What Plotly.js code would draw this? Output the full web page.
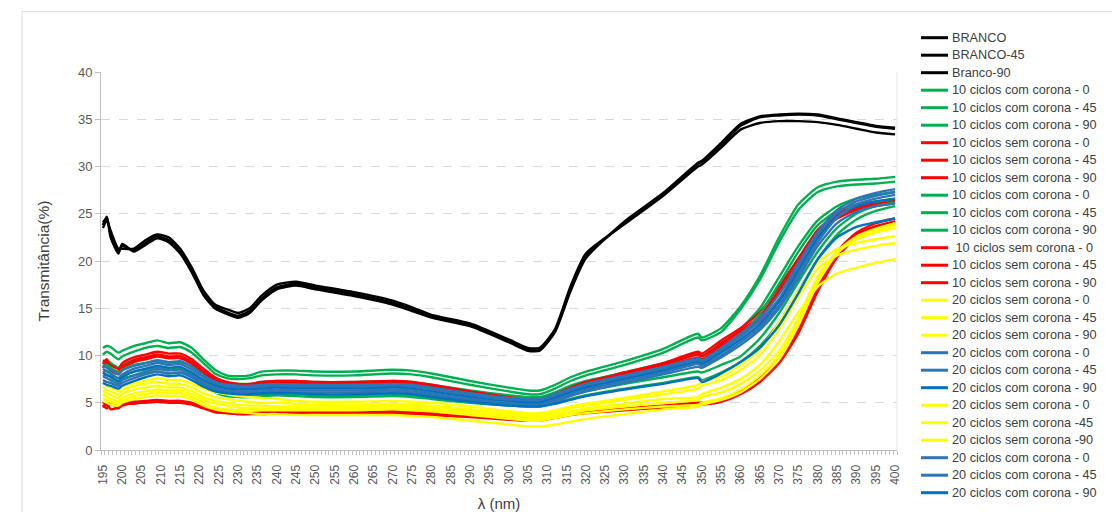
<!DOCTYPE html>
<html>
<head>
<meta charset="utf-8">
<script src="https://cdn.plot.ly/plotly-3.0.1.min.js"></script>
<style>html,body{margin:0;padding:0;background:#fff;}#chart{width:1112px;height:512px;}</style>
</head>
<body>
<div id="chart"></div>
<script>
// Wavelength samples (nm)
const wl = [195,196,197,199,200, 203,206,209,212,215, 218,221,224,227,230, 233,236,240,245,250, 260,270,275,280,290, 300,305,308,312,316, 320,330,340,349,350, 355,360,365,370,375, 380,385,390,395,400];

// Legend labels
const labels = ["BRANCO","BRANCO-45","Branco-90",
 "10 ciclos com corona - 0","10 ciclos com corona - 45","10 ciclos com corona - 90",
 "10 ciclos sem corona - 0","10 ciclos sem corona - 45","10 ciclos sem corona - 90",
 "10 ciclos com corona - 0","10 ciclos com corona - 45","10 ciclos com corona - 90",
 "\u00a010 ciclos sem corona - 0","10 ciclos sem corona - 45","10 ciclos sem corona - 90",
 "20 ciclos sem corona - 0","20 ciclos sem corona - 45","20 ciclos sem corona - 90",
 "20 ciclos com corona - 0","20 ciclos com corona - 45","20 ciclos com corona - 90",
 "20 ciclos sem corona - 0","20 ciclos sem corona -45","20 ciclos sem corona -90",
 "20 ciclos com corona - 0","20 ciclos com corona - 45","20 ciclos com corona - 90"];

// Transmittance (%) series
const branco0  = [23.8,24.7,22.8,21.0,21.6, 21.1,21.9,22.6,22.2,21.0, 19.0,16.6,15.2,14.6,14.2, 14.7,16.0,17.2,17.6,17.2, 16.5,15.6,14.9,14.1,13.2, 11.5,10.6,10.6,12.6,17.0, 20.5,24.0,27.0,30.3,30.5, 32.3,34.3,35.2,35.4,35.5, 35.4,35.0,34.6,34.2,34.0];
const branco45 = [23.5,24.3,23.2,21.3,21.3, 21.3,22.2,22.8,22.5,21.3, 19.3,16.9,15.4,14.9,14.5, 15.0,16.3,17.5,17.8,17.4, 16.7,15.8,15.1,14.3,13.4, 11.7,10.8,10.8,12.8,17.3, 20.8,23.9,26.9,30.0,30.2, 32.0,33.9,34.6,34.8,34.8, 34.7,34.4,34.0,33.6,33.4];
const branco90 = [24.1,24.5,22.5,20.8,21.8, 21.0,21.7,22.4,22.0,20.8, 18.8,16.4,15.0,14.4,14.0, 14.5,15.8,17.0,17.4,17.0, 16.3,15.4,14.7,14.0,13.1, 11.4,10.5,10.5,12.5,16.8, 20.3,24.2,27.2,30.4,30.6, 32.5,34.5,35.3,35.5,35.6, 35.5,35.1,34.7,34.3,34.1];

const c10com0a  = [10.8,11.0,10.9,10.3,10.5, 11.0,11.3,11.6,11.3,11.4, 10.8,9.6,8.5,7.9,7.8, 7.9,8.3,8.4,8.4,8.3, 8.3,8.5,8.4,8.1,7.3, 6.6,6.3,6.3,6.9,7.7, 8.3,9.4,10.7,12.3,11.9, 12.9,15.2,18.4,22.5,26.0, 27.8,28.4,28.6,28.7,28.9];
const c10com45a = [10.1,10.4,10.2,9.6,9.9, 10.4,10.8,11.0,10.8,10.9, 10.3,9.2,8.1,7.6,7.5, 7.6,7.9,8.0,8.0,7.9, 7.9,8.1,8.0,7.7,6.9, 6.2,5.9,5.9,6.5,7.3, 7.9,9.0,10.3,11.9,11.6, 12.5,14.9,18.0,22.0,25.4, 27.3,27.9,28.1,28.2,28.4];
const c10com90a = [9.3,9.5,9.2,8.7,9.0, 9.5,9.8,10.0,9.8,9.9, 9.3,8.3,7.5,7.1,7.0, 7.0,7.2,7.3,7.3,7.2, 7.2,7.3,7.2,6.9,6.3, 5.8,5.6,5.6,6.1,6.8, 7.3,8.2,9.2,10.2,10.0, 11.2,12.8,15.0,18.3,21.6, 24.3,25.8,26.6,27.0,27.3];
const s10sem0a  = [9.5,9.3,9.0,8.6,9.2, 9.8,10.1,10.4,10.2,10.2, 9.6,8.6,7.7,7.2,7.0, 7.0,7.2,7.3,7.3,7.2, 7.2,7.3,7.2,6.9,6.2, 5.6,5.3,5.3,5.9,6.6, 7.2,8.2,9.2,10.4,10.2, 11.6,12.9,14.6,17.3,20.3, 23.3,25.0,25.8,26.2,26.5];
const s10sem45a = [9.1,9.6,8.6,8.3,8.8, 9.5,9.8,10.1,9.9,9.9, 9.3,8.3,7.5,7.0,6.8, 6.8,7.0,7.1,7.1,7.1, 7.1,7.2,7.1,6.8,6.1, 5.4,5.1,5.1,5.7,6.4, 7.0,8.0,9.0,10.1,9.9, 11.3,12.6,14.2,16.9,19.9, 23.0,24.8,25.6,26.0,26.3];
const s10sem90a = [8.7,9.2,8.4,8.0,8.6, 9.3,9.6,9.9,9.7,9.7, 9.1,8.1,7.3,6.9,6.7, 6.7,6.9,7.0,7.0,7.0, 7.0,7.1,7.0,6.7,6.0, 5.3,5.0,5.0,5.5,6.2, 6.8,7.8,8.8,9.8,9.6, 11.0,12.3,13.9,16.6,19.6, 22.7,24.5,25.4,25.8,26.1];
const c10com0b  = [8.8,9.0,8.7,8.2,8.5, 9.0,9.2,9.4,9.2,9.3, 8.8,7.9,7.0,6.7,6.6, 6.6,6.8,6.9,6.9,6.8, 6.8,6.9,6.8,6.5,5.9, 5.4,5.2,5.2,5.7,6.4, 6.9,7.8,8.7,9.6,9.4, 10.6,12.2,14.4,17.6,21.0, 23.8,25.3,26.0,26.3,26.6];
const c10com45b = [8.2,8.4,8.1,7.6,7.9, 8.3,8.5,8.7,8.5,8.6, 8.1,7.2,6.3,5.9,5.8, 5.8,5.9,6.0,5.9,5.8, 5.8,5.9,5.8,5.6,5.2, 4.9,4.8,4.8,5.2,5.8, 6.2,7.0,7.7,8.3,8.2, 9.0,9.9,11.8,14.5,17.8, 21.0,23.5,25.0,25.8,26.2];
const c10com90b = [7.8,8.0,7.7,7.2,7.5, 7.9,8.1,8.3,8.1,8.2, 7.7,6.9,6.1,5.7,5.6, 5.6,5.7,5.8,5.7,5.6, 5.6,5.7,5.6,5.4,5.0, 4.7,4.6,4.6,4.9,5.4, 5.8,6.5,7.1,7.7,7.4, 8.2,9.3,11.0,13.5,16.8, 20.2,22.8,24.4,25.3,25.8];
const s10sem0b  = [4.8,4.4,4.9,4.6,4.9, 5.1,5.2,5.3,5.2,5.2, 5.0,4.6,4.2,4.0,3.9, 3.9,4.0,4.0,4.0,4.0, 4.0,4.1,4.0,3.9,3.7, 3.4,3.3,3.3,3.6,3.9, 4.1,4.4,4.7,5.0,5.0, 5.3,6.2,7.6,9.6,13.0, 17.5,21.0,23.0,24.0,24.5];
const s10sem45b = [4.5,4.9,4.3,4.5,4.7, 5.0,5.0,5.1,5.0,5.0, 4.8,4.4,4.0,3.9,3.8, 3.8,3.9,3.9,3.9,3.9, 3.9,3.9,3.9,3.8,3.6, 3.3,3.2,3.2,3.5,3.8, 4.0,4.3,4.6,4.9,4.9, 5.2,6.0,7.4,9.4,12.7, 17.2,20.8,22.8,23.7,24.2];
const s10sem90b = [5.1,4.7,5.0,4.4,4.8, 4.9,5.1,5.2,5.1,5.1, 4.9,4.5,4.1,3.9,3.8, 3.8,3.8,3.9,3.8,3.8, 3.8,3.9,3.8,3.7,3.5, 3.2,3.1,3.1,3.4,3.7, 3.9,4.2,4.5,4.8,4.8, 5.1,5.9,7.2,9.2,12.4, 16.8,20.4,22.5,23.4,24.0];

const s20sem0a  = [7.1,6.8,6.6,6.3,6.7, 7.1,7.3,7.6,7.4,7.4, 7.0,6.5,6.1,5.9,5.7, 5.6,5.5,5.4,5.2,5.1, 5.1,5.2,5.1,5.0,4.6, 4.1,3.9,3.9,4.2,4.6, 4.9,5.5,6.2,6.9,7.2, 7.8,9.0,10.6,13.5,16.8, 19.8,21.3,21.9,22.3,22.6];
const s20sem45a = [6.7,6.3,6.2,5.9,6.3, 6.8,7.0,7.2,7.0,7.0, 6.6,6.0,5.6,5.4,5.2, 5.1,5.0,5.0,4.9,4.8, 4.8,4.9,4.8,4.7,4.3, 3.9,3.7,3.7,4.0,4.4, 4.7,5.3,5.9,6.5,6.8, 7.4,8.5,10.0,12.8,16.2, 19.2,20.6,21.2,21.6,21.9];
const s20sem90a = [6.3,6.0,5.8,5.5,5.9, 6.4,6.6,6.8,6.6,6.6, 6.2,5.6,5.2,5.0,4.8, 4.7,4.7,4.6,4.6,4.6, 4.6,4.7,4.6,4.5,4.1, 3.7,3.5,3.5,3.8,4.1, 4.4,4.9,5.4,5.6,5.9, 6.6,7.5,9.0,11.5,14.6, 17.3,18.7,19.3,19.8,20.2];
const c20com0a  = [9.0,8.7,8.5,8.0,8.4, 8.9,9.2,9.5,9.3,9.4, 8.8,7.9,7.2,6.9,6.8, 6.8,6.9,7.0,6.9,6.9, 6.9,7.0,6.9,6.6,6.0, 5.5,5.4,5.4,5.9,6.5, 7.0,7.9,8.8,9.7,9.5, 10.8,12.3,14.0,16.5,19.8, 23.1,25.4,26.6,27.2,27.6];
const c20com45a = [8.6,8.3,8.1,7.6,8.0, 8.6,8.9,9.2,9.0,9.1, 8.5,7.7,7.0,6.7,6.6, 6.6,6.7,6.8,6.7,6.7, 6.7,6.8,6.7,6.4,5.8, 5.3,5.2,5.2,5.7,6.3, 6.8,7.7,8.6,9.5,9.3, 10.5,12.0,13.6,16.0,19.4, 22.8,25.1,26.3,26.9,27.3];
const c20com90a = [8.2,7.9,7.8,7.3,7.7, 8.3,8.6,8.9,8.7,8.8, 8.2,7.4,6.8,6.5,6.4, 6.4,6.5,6.6,6.5,6.5, 6.5,6.6,6.5,6.2,5.6, 5.1,5.0,5.0,5.5,6.1, 6.6,7.5,8.4,9.3,9.1, 10.3,11.7,13.3,15.7,19.0, 22.4,24.7,25.8,26.3,26.6];
const s20sem0b  = [5.9,5.6,5.4,5.2,5.5, 6.0,6.2,6.4,6.3,6.3, 5.9,5.3,4.9,4.7,4.5, 4.4,4.4,4.4,4.4,4.4, 4.4,4.5,4.4,4.3,3.9, 3.5,3.3,3.3,3.6,3.9, 4.2,4.6,5.0,5.3,5.6, 6.1,7.0,8.4,10.5,14.0, 18.4,21.0,22.3,23.0,23.5];
const s20sem45b = [5.5,5.3,5.1,4.9,5.2, 5.7,5.9,6.1,6.0,6.0, 5.6,5.0,4.5,4.3,4.2, 4.2,4.2,4.2,4.2,4.2, 4.2,4.3,4.2,4.1,3.7, 3.3,3.1,3.1,3.4,3.7, 3.9,4.3,4.6,4.8,5.0, 5.5,6.4,7.9,10.0,13.6, 18.0,21.0,22.6,23.4,24.0];
const s20sem90b = [5.2,5.0,4.8,4.7,5.0, 5.4,5.6,5.8,5.7,5.7, 5.3,4.7,4.3,4.1,4.0, 3.9,3.8,3.8,3.7,3.7, 3.7,3.7,3.6,3.5,3.1, 2.7,2.5,2.5,2.7,3.0, 3.3,3.8,4.3,4.6,4.8, 5.3,6.1,7.5,9.6,13.2, 17.7,20.8,22.4,23.2,23.8];
const c20com0b  = [7.8,7.6,7.4,7.0,7.4, 7.9,8.3,8.6,8.4,8.5, 7.9,7.2,6.6,6.3,6.2, 6.2,6.3,6.4,6.3,6.3, 6.3,6.4,6.3,6.0,5.4, 5.0,4.8,4.8,5.3,5.9, 6.4,7.3,8.2,9.1,8.9, 10.0,11.4,13.0,15.3,18.6, 22.0,24.6,26.0,26.6,27.0];
const c20com45b = [7.4,7.2,7.1,6.8,7.1, 7.6,8.0,8.3,8.1,8.2, 7.7,7.0,6.4,6.2,6.1, 6.0,6.1,6.2,6.1,6.1, 6.1,6.2,6.1,5.8,5.3, 4.8,4.7,4.7,5.1,5.7, 6.2,7.1,8.0,8.8,8.7, 9.8,11.1,12.7,15.0,18.2, 21.6,24.0,25.2,25.8,26.1];
const c20com90b = [7.1,6.9,6.8,6.5,6.8, 7.3,7.7,8.0,7.8,7.9, 7.4,6.7,6.2,6.0,5.9, 5.9,6.0,6.0,6.0,5.9, 5.9,6.0,5.9,5.6,5.1, 4.7,4.6,4.6,4.9,5.3, 5.7,6.4,7.0,7.6,7.2, 8.1,9.3,10.8,13.2,16.6, 20.2,22.5,23.6,24.1,24.5];

const seriesValues = [branco0,branco45,branco90,
  c10com0a,c10com45a,c10com90a, s10sem0a,s10sem45a,s10sem90a,
  c10com0b,c10com45b,c10com90b, s10sem0b,s10sem45b,s10sem90b,
  s20sem0a,s20sem45a,s20sem90a, c20com0a,c20com45a,c20com90a,
  s20sem0b,s20sem45b,s20sem90b, c20com0b,c20com45b,c20com90b];

const BLACK='#000000', GREEN='#00B050', RED='#FF0000', YELLOW='#FFFF00', BLUE1='#2E75B6', BLUE2='#0070C0';
const colors = [BLACK,BLACK,BLACK, GREEN,GREEN,GREEN, RED,RED,RED, GREEN,GREEN,GREEN, RED,RED,RED,
  YELLOW,YELLOW,YELLOW, BLUE1,BLUE1,BLUE2, YELLOW,YELLOW,YELLOW, BLUE1,BLUE1,BLUE2];

const traces = seriesValues.map((vals,i)=>({
  x: wl, y: vals, type:'scatter', mode:'lines', name: labels[i],
  line:{color:colors[i], width:2.4, shape:'spline', smoothing:0.6},
  showlegend:false, hoverinfo:'x+y+name'
}));

// Geometry (pixels) of the plot area
const W=1112, H=512, L=101, R=897, T=72, B=450;
const px = x => (x-L)/(R-L);
const py = y => (B-y)/(B-T);

const shapes = [];
const annotations = [];
labels.forEach((lab,i)=>{
  const y = 37.7 + i*17.5;
  shapes.push({type:'line', xref:'paper', yref:'paper', x0:px(921), x1:px(948), y0:py(y), y1:py(y),
    line:{color:colors[i], width:3}});
  annotations.push({xref:'paper', yref:'paper', x:px(950), y:py(y), xanchor:'left', yanchor:'middle',
    text:lab, showarrow:false, font:{family:'Liberation Sans, Arial, sans-serif', size:12.7, color:'#404040'}});
});
// chart border (top & left) and right edge of plot area
shapes.push({type:'line', xref:'paper', yref:'paper', x0:px(22), x1:px(1112), y0:py(11.5), y1:py(11.5), line:{color:'#d9d9d9', width:1}});
shapes.push({type:'line', xref:'paper', yref:'paper', x0:px(22), x1:px(22), y0:py(11.5), y1:py(512), line:{color:'#d9d9d9', width:1}});
shapes.push({type:'line', xref:'paper', yref:'paper', x0:px(897), x1:px(897), y0:py(72), y1:py(450), line:{color:'#e6e6e6', width:1}});

const layout = {
  width:W, height:H,
  margin:{l:L, r:W-R, t:T, b:H-B, pad:0},
  paper_bgcolor:'#ffffff', plot_bgcolor:'#ffffff',
  font:{family:'Liberation Sans, Arial, sans-serif', color:'#595959'},
  showlegend:false,
  xaxis:{
    range:[194.5,400.5], tickmode:'linear', tick0:195, dtick:5, ticks:'', tickangle:-90,
    tickfont:{size:12, color:'#595959'}, ticklabelstandoff:9,
    showline:true, linecolor:'#bfbfbf', linewidth:1, showgrid:false, zeroline:false,
    minor:{ticks:'outside', tick0:194.5, dtick:1, ticklen:4, tickcolor:'#bfbfbf', showgrid:false},
    title:{text:'λ (nm)', font:{size:15, color:'#404040'}, standoff:14}
  },
  yaxis:{
    range:[0,40], tickmode:'linear', tick0:0, dtick:5, ticks:'outside', ticklen:5, tickcolor:'#bfbfbf',
    tickfont:{size:13, color:'#595959'},
    showline:true, linecolor:'#bfbfbf', linewidth:1, zeroline:false,
    showgrid:true, gridcolor:'#d9d9d9', griddash:'dash', gridwidth:1,
    title:{text:'Transmitância(%)', font:{size:15.5, color:'#404040'}, standoff:24}
  },
  shapes:shapes, annotations:annotations
};

Plotly.newPlot('chart', traces, layout, {displayModeBar:false, staticPlot:true});
</script>
</body>
</html>
